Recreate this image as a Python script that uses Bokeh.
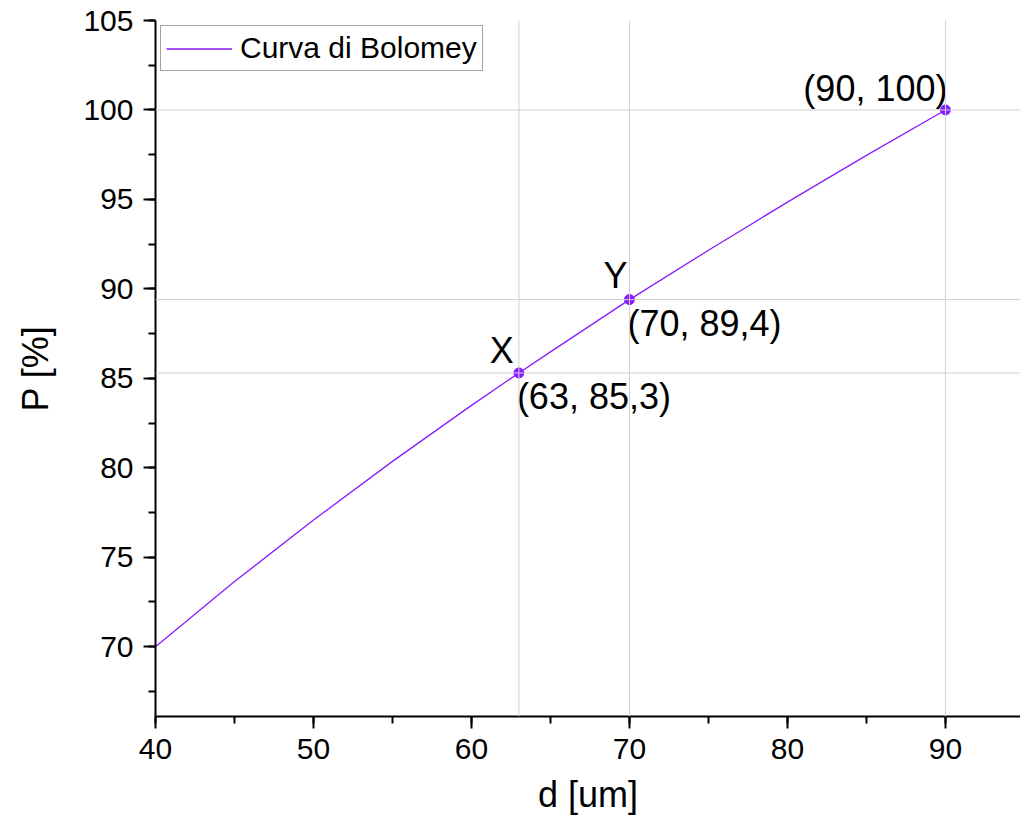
from bokeh.plotting import figure
from bokeh.models import Range1d, SingleIntervalTicker, Span, Legend, LegendItem
from bokeh.core.properties import value
from bokeh.embed import file_html
from bokeh.resources import INLINE

# Bolomey curve
d_um = [40, 45, 50, 55, 60, 63, 65, 70, 75, 80, 85, 90]
p_pct = [70.0, 73.64, 77.08, 80.36, 83.49, 85.3, 86.48, 89.4, 92.16, 94.85, 97.46, 100.0]

# marked points
pt_x = [63, 70, 90]
pt_y = [85.3, 89.4, 100.0]
pt_text = ["(63, 85,3)", "(70, 89,4)", "(90, 100)"]
pt_name = ["X", "Y"]

FONT = "Liberation Sans"
PURPLE = "#8A1CFF"

p = figure(width=1020, height=820, output_backend="svg", toolbar_location=None,
           x_range=Range1d(40, 94.75), y_range=Range1d(66.1, 105),
           min_border_left=155, min_border_right=0, min_border_top=20,
           min_border_bottom=104)
p.outline_line_color = None
p.xgrid.visible = False
p.ygrid.visible = False

# reference lines at the marked points
for xv in pt_x:
    p.add_layout(Span(location=xv, dimension="height", line_color="#d0d0d0", line_width=1))
for yv in pt_y:
    p.add_layout(Span(location=yv, dimension="width", line_color="#d0d0d0", line_width=1))

line = p.line(d_um, p_pct, line_color=PURPLE, line_width=1.3)
p.scatter(pt_x, pt_y, size=10, color=PURPLE, line_color=PURPLE)

# axes
p.xaxis.ticker = SingleIntervalTicker(interval=10, num_minor_ticks=2)
p.yaxis.ticker = SingleIntervalTicker(interval=5, num_minor_ticks=2)
for ax in (p.xaxis[0], p.yaxis[0]):
    ax.axis_line_width = 2
    ax.axis_line_color = "black"
    ax.major_tick_line_width = 2
    ax.minor_tick_line_width = 2
    ax.major_tick_out = 12
    ax.major_tick_in = 0
    ax.minor_tick_out = 7
    ax.minor_tick_in = 0
    ax.major_label_text_font = FONT
    ax.major_label_text_font_size = "30px"
    ax.major_label_text_color = "black"
    ax.major_label_standoff = 10
    ax.axis_label_text_font = FONT
    ax.axis_label_text_font_size = "36px"
    ax.axis_label_text_font_style = "normal"
    ax.axis_label_text_color = "black"
p.xaxis.axis_label = "d [um]"
p.yaxis.axis_label = "P [%]"
p.xaxis.axis_label_standoff = 12
p.yaxis.axis_label_standoff = 24

# annotations
p.text([pt_x[2]], [pt_y[2]], text=[pt_text[2]], text_align="right", text_baseline="bottom",
       x_offset=2, y_offset=-1, text_font=value(FONT), text_font_size="36px", text_color="black")
p.text([pt_x[1]], [pt_y[1]], text=[pt_text[1]], text_align="left", text_baseline="top",
       x_offset=-2, y_offset=3, text_font=value(FONT), text_font_size="36px", text_color="black")
p.text([pt_x[0]], [pt_y[0]], text=[pt_text[0]], text_align="left", text_baseline="top",
       x_offset=-2, y_offset=3, text_font=value(FONT), text_font_size="36px", text_color="black")
p.text([pt_x[1]], [pt_y[1]], text=[pt_name[1]], text_align="right", text_baseline="bottom",
       x_offset=-2, y_offset=-4, text_font=value(FONT), text_font_size="36px", text_color="black")
p.text([pt_x[0]], [pt_y[0]], text=[pt_name[0]], text_align="right", text_baseline="bottom",
       x_offset=-5, y_offset=-2, text_font=value(FONT), text_font_size="36px", text_color="black")

legend = Legend(items=[LegendItem(label="Curva di Bolomey", renderers=[line])],
                location=(5, 645), margin=0)
legend.label_text_font = FONT
legend.label_text_font_size = "30px"
legend.label_text_color = "black"
legend.glyph_width = 66
legend.glyph_height = 31
legend.label_height = 31
legend.label_standoff = 8
legend.padding = 5
legend.border_line_color = "#444444"
legend.border_line_width = 1
legend.background_fill_alpha = 1
p.add_layout(legend, "center")

open("out.html", "w").write(file_html(p, INLINE))
